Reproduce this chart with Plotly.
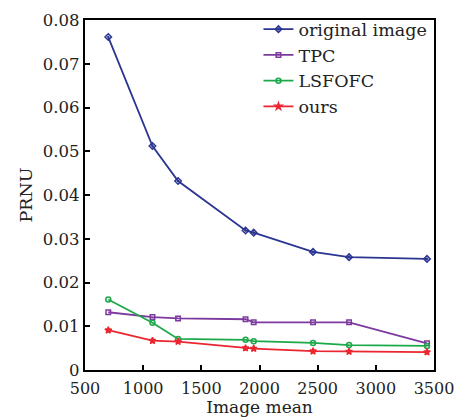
import plotly.graph_objects as go

image_mean = [700, 1080, 1300, 1880, 1950, 2460, 2770, 3440]
prnu_original = [0.0761, 0.0512, 0.0432, 0.0319, 0.0314, 0.0270, 0.0258, 0.0254]
prnu_tpc = [0.0132, 0.0121, 0.0118, 0.0116, 0.0109, 0.0109, 0.0109, 0.0061]
prnu_lsfofc = [0.0161, 0.0108, 0.0071, 0.0069, 0.0066, 0.0062, 0.0057, 0.0055]
prnu_ours = [0.0091, 0.0067, 0.0065, 0.0050, 0.0049, 0.0043, 0.0042, 0.0041]

x_ticks = [500, 1000, 1500, 2000, 2500, 3000, 3500]
y_ticks = [0, 0.01, 0.02, 0.03, 0.04, 0.05, 0.06, 0.07, 0.08]
y_ticktext = ["0", "0.01", "0.02", "0.03", "0.04", "0.05", "0.06", "0.07", "0.08"]

series = [
    ("original image", prnu_original, "#2B3592", "diamond-open-dot", 5),
    ("TPC", prnu_tpc, "#7D3A9E", "square-open", 4.5),
    ("LSFOFC", prnu_lsfofc, "#1DA84A", "circle-open", 5),
    ("ours", prnu_ours, "#EC2630", "star", 5),
]

FONT = "DejaVu Serif"

fig = go.Figure()
for name, ys, color, sym, sz in series:
    fig.add_trace(go.Scatter(
        x=image_mean, y=ys, name=name, mode="lines+markers",
        line=dict(color=color, width=1.8),
        marker=dict(symbol=sym, size=sz, color=color, line=dict(color=color, width=1.5)),
    ))

fig.update_layout(
    width=456, height=417,
    margin=dict(l=85, r=22, t=19, b=47),
    paper_bgcolor="white", plot_bgcolor="white",
    font=dict(family=FONT, color="#222222", size=16),
    showlegend=True,
    legend=dict(
        x=0.497, y=1.022, xanchor="left", yanchor="top",
        bgcolor="rgba(0,0,0,0)", borderwidth=0,
        font=dict(family=FONT, size=17.5, color="#222222"),
        tracegroupgap=0,
    ),
)

fig.update_xaxes(
    range=[500, 3500], tickvals=x_ticks, ticktext=[str(v) for v in x_ticks],
    ticks="inside", ticklen=5, tickwidth=1.5, tickcolor="black",
    showline=True, linecolor="black", linewidth=2.2, mirror=True,
    showgrid=False, zeroline=False, ticklabelstandoff=3, automargin=False,
    tickfont=dict(family=FONT, size=16, color="#222222"),
    title=dict(text="Image mean", font=dict(family=FONT, size=17, color="#222222"), standoff=6),
)
fig.update_yaxes(
    range=[0, 0.08], tickvals=y_ticks, ticktext=y_ticktext,
    ticks="inside", ticklen=5, tickwidth=1.5, tickcolor="black",
    showline=True, linecolor="black", linewidth=2.2, mirror=True,
    showgrid=False, zeroline=False, automargin=False,
    tickfont=dict(family=FONT, size=16.5, color="#222222"),
    title=dict(text="PRNU", font=dict(family=FONT, size=17.5, color="#222222"), standoff=6),
)

fig.write_html("out.html")
